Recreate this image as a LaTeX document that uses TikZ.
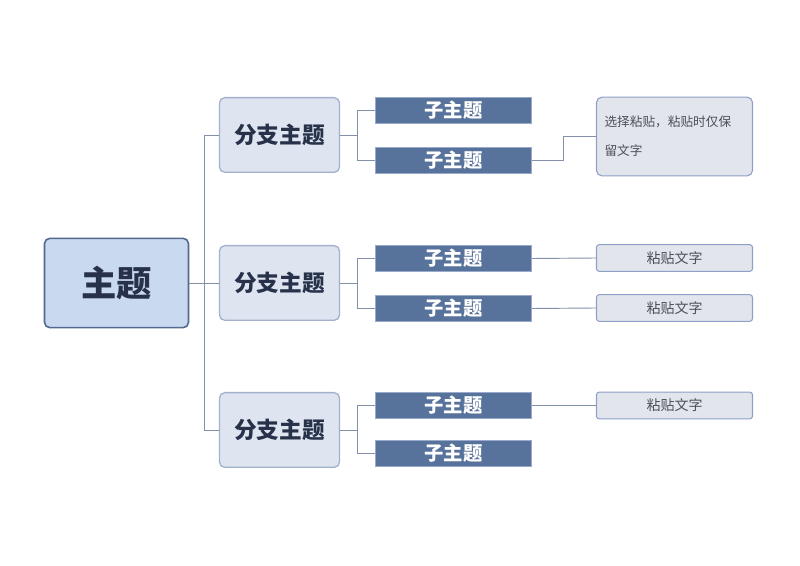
\documentclass[tikz,border=0pt]{standalone}
\usepackage{fontspec}
\setmainfont{Noto Sans CJK SC}
\usetikzlibrary{calc}
\definecolor{mainfill}{HTML}{C9D9EF}
\definecolor{mainline}{HTML}{53698F}
\definecolor{branchfill}{HTML}{DFE5F0}
\definecolor{branchline}{HTML}{A3B1CC}
\definecolor{subfill}{HTML}{58739B}
\definecolor{subline}{HTML}{9AAACB}
\definecolor{notefill}{HTML}{E2E5EC}
\definecolor{noteline}{HTML}{8EA0C8}
\definecolor{linkline}{HTML}{8391A8}
\definecolor{darktext}{HTML}{27324A}
\definecolor{notetext}{HTML}{4A4F5A}
\tikzset{
  mainbox/.style={draw=mainline, fill=mainfill, line width=1.2pt, rounded corners=4pt,
    minimum width=108pt, minimum height=67pt, text=darktext, font=\fontsize{26.5}{30}\selectfont\bfseries},
  branchbox/.style={draw=branchline, fill=branchfill, line width=1pt, rounded corners=4pt,
    minimum width=90pt, minimum height=56pt, text=darktext, font=\fontsize{17}{20}\selectfont\bfseries},
  subbox/.style={draw=subline, fill=subfill, line width=0.8pt,
    minimum width=117pt, minimum height=20pt, inner sep=0pt, text=white, font=\fontsize{14.5}{16}\selectfont\bfseries},
  notebox/.style={draw=noteline, fill=notefill, line width=0.8pt, rounded corners=2pt,
    minimum width=117pt, minimum height=20pt, inner sep=0pt, text=notetext, font=\fontsize{10.5}{12}\selectfont},
  link/.style={draw=linkline, line width=0.7pt}
}
\begin{document}
\begin{tikzpicture}[x=0.75pt, y=-0.75pt]
			%%%%% START %%%%%
			\useasboundingbox (0, 0) rectangle (800, 566);
			
			\node[mainbox] (main) at (116.5, 283) {主题};
			
			\node[branchbox] (b1) at (279.5, 135) {分支主题};
			\node[branchbox] (b2) at (279.5, 283) {分支主题};
			\node[branchbox] (b3) at (279.5, 430) {分支主题};
			
			\node[subbox] (s11) at (453.5, 110.5) {子主题};
			\node[subbox] (s12) at (453.5, 160.5) {子主题};
			\node[subbox] (s21) at (453.5, 258.5) {子主题};
			\node[subbox] (s22) at (453.5, 308.5) {子主题};
			\node[subbox] (s31) at (453.5, 405.5) {子主题};
			\node[subbox] (s32) at (453.5, 453.5) {子主题};
			
			\node[notebox, rounded corners=4pt, minimum height=59pt, text width=105pt, align=left,
			  font=\fontsize{9.5}{22}\selectfont] (n12) at (674.5, 136.5) {选择粘贴，粘贴时仅保\\留文字};
			\node[notebox] (n21) at (674.5, 258) {粘贴文字};
			\node[notebox] (n22) at (674.5, 308) {粘贴文字};
			\node[notebox] (n31) at (674.5, 405.5) {粘贴文字};
			
			% trunk
			\draw[link] (main.east) -- ++(15, 0) coordinate (trunk);
			\draw[link] (trunk) |- (b1.west);
			\draw[link] (trunk) -- (b2.west);
			\draw[link] (trunk) |- (b3.west);
			
			% branches
			\foreach \b/\s/\t in {b1/s11/s12, b2/s21/s22, b3/s31/s32}{
				\draw[link] (\b.east) -- ++(17, 0) coordinate (fork);
				\draw[link] (fork) |- (\s.west);
				\draw[link] (fork) |- (\t.west);
			}
			
			% notes
			\draw[link] (s12.east) -- ++(31, 0) |- (n12.west);
			\draw[link] (s21.east) -- (n21.west);
			\draw[link] (s22.east) -- (n22.west);
			\draw[link] (s31.east) -- (n31.west);
			%%%%% END %%%%%
\end{tikzpicture}
\end{document}
